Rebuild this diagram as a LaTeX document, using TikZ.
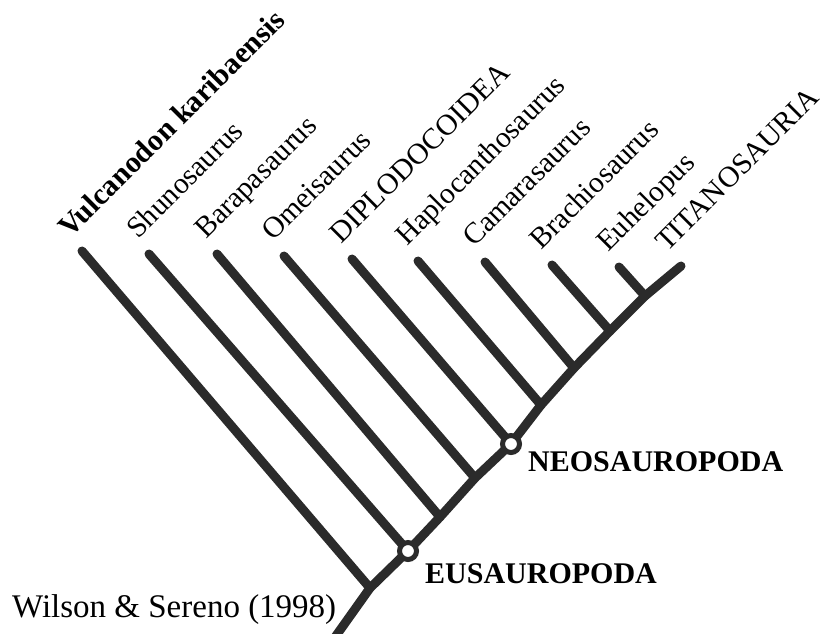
\documentclass[tikz,border=0pt]{standalone}
\usepackage{fontspec}
\setmainfont{Liberation Serif}
\usetikzlibrary{calc, positioning}
\definecolor{CBranch}{HTML}{2B2B2B}

\begin{document}
\begin{tikzpicture}[x=1pt, y=-1pt,
    branch/.style={CBranch, line width=9pt, line cap=round, line join=round},
    taxon/.style={font=\fontsize{29.5}{36}\selectfont, rotate=45, anchor=base west, inner sep=0pt},
    clade/.style={font=\fontsize{30}{36}\selectfont\bfseries, anchor=base west, inner sep=0pt},
    ring/.style={circle, draw=CBranch, fill=white, line width=5pt, minimum size=17pt, inner sep=0pt}]
    \useasboundingbox (0,0) rectangle (829,633);

    % Trunk
    \coordinate (root) at (333,640);
    \coordinate (jVul) at (370,588);
    \coordinate (Eus) at (408,551);
    \coordinate (jBar) at (440,517);
    \coordinate (jOme) at (475,478);
    \coordinate (Neo) at (511,444);
    \coordinate (jHap) at (541,405);
    \coordinate (jCam) at (574,368);
    \coordinate (jBra) at (610,331);
    \coordinate (jEuh) at (645,296);
    \coordinate (Tit) at (681,266);

    % Leaf tips
    \coordinate (Vul) at (82,251);
    \coordinate (Shu) at (149,254);
    \coordinate (Bar) at (217,254);
    \coordinate (Ome) at (284,256);
    \coordinate (Dip) at (352,259);
    \coordinate (Hap) at (418,261);
    \coordinate (Cam) at (485,262);
    \coordinate (Bra) at (552,265);
    \coordinate (Euh) at (619,267);

    % Branches
    \draw[branch] (root) -- (jVul) -- (Eus) -- (jBar) -- (jOme) -- (Neo)
        -- (jHap) -- (jCam) -- (jBra) -- (jEuh) -- (Tit);
    \foreach \a/\b in {Vul/jVul, Shu/Eus, Bar/jBar, Ome/jOme, Dip/Neo,
                       Hap/jHap, Cam/jCam, Bra/jBra, Euh/jEuh}
        \draw[branch] (\a) -- (\b);

    % Clade nodes
    \node[ring] (nEus) at (Eus) {};
    \node[ring] (nNeo) at (Neo) {};

    % Taxon labels
    \node[taxon, font=\fontsize{30}{36}\selectfont\bfseries] (lVul) at ($(Vul)+(-12,-12)$) {Vulcanodon karibaensis};
    \foreach \t/\txt in {Shu/Shunosaurus, Bar/Barapasaurus, Ome/Omeisaurus,
                         Dip/DIPLODOCOIDEA, Hap/Haplocanthosaurus, Cam/Camarasaurus,
                         Bra/Brachiosaurus, Euh/Euhelopus}
        \node[taxon] (l\t) at ($(\t)+(-11,-14)$) {\txt};
    \node[taxon] (lTit) at ($(Tit)+(-14,-13)$) {TITANOSAURIA};

    % Clade names
    \node[clade] (lEus) at (425,583) {EUSAUROPODA};
    \node[clade] (lNeo) at (528,471) {NEOSAUROPODA};
    \node[anchor=base west, inner sep=0pt, font=\fontsize{33}{39}\selectfont] (src) at (12,617) {Wilson \& Sereno (1998)};
\end{tikzpicture}
\end{document}
